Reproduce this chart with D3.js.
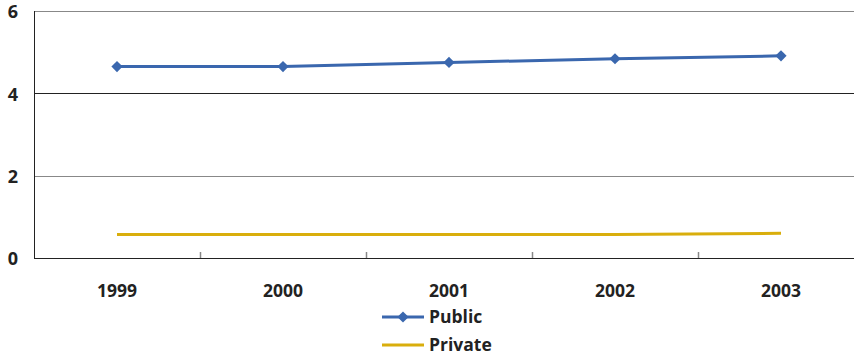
<!DOCTYPE html>
<html>
<head>
<meta charset="utf-8">
<script src="https://cdn.jsdelivr.net/npm/d3@7"></script>
<style>
  body { margin: 0; background: #fff; }
  svg { display: block; font-family: "Open Sans", "Noto Sans", sans-serif; font-weight: bold; }
</style>
</head>
<body>
<svg id="chart" width="854" height="356"></svg>
<script>
const years = ["1999", "2000", "2001", "2002", "2003"];
const publicValues = [4.65, 4.65, 4.75, 4.84, 4.91];
const privateValues = [0.57, 0.57, 0.57, 0.57, 0.6];
const yTicks = [0, 2, 4, 6];

const width = 854, height = 356;
const margin = { top: 11, right: -10, bottom: 98, left: 34 };

const svg = d3.select("#chart");

const x = d3
  .scaleBand()
  .domain(years)
  .range([margin.left, width - margin.right]);

const y = d3
  .scaleLinear()
  .domain([0, 6])
  .range([height - margin.bottom, margin.top]);

// gridlines
svg
  .append("g")
  .selectAll("line")
  .data(yTicks.filter((d) => d > 0))
  .enter()
  .append("line")
  .attr("x1", margin.left)
  .attr("x2", width)
  .attr("y1", (d) => Math.round(y(d)) + 0.5)
  .attr("y2", (d) => Math.round(y(d)) + 0.5)
  .attr("stroke", (d) => (d === 4 ? "#222" : "#888"))
  .attr("stroke-width", 1.2);

// y axis line
svg
  .append("line")
  .attr("x1", margin.left + 0.5)
  .attr("x2", margin.left + 0.5)
  .attr("y1", y(6))
  .attr("y2", y(0))
  .attr("stroke", "#222");

// x axis line
svg
  .append("line")
  .attr("x1", margin.left)
  .attr("x2", width)
  .attr("y1", Math.round(y(0)) + 0.5)
  .attr("y2", Math.round(y(0)) + 0.5)
  .attr("stroke", "#222")
  .attr("stroke-width", 1.2);

// x tick marks at band boundaries (inward)
svg
  .append("g")
  .selectAll("line")
  .data(years.slice(1))
  .enter()
  .append("line")
  .attr("x1", (d) => Math.round(x(d)) + 0.5)
  .attr("x2", (d) => Math.round(x(d)) + 0.5)
  .attr("y1", y(0) - 6)
  .attr("y2", y(0))
  .attr("stroke", "#888")
  .attr("stroke-width", 1.5);

// y tick labels
svg
  .append("g")
  .selectAll("text")
  .data(yTicks)
  .enter()
  .append("text")
  .attr("x", 13)
  .attr("y", (d) => y(d) + 1)
  .attr("dy", "0.35em")
  .attr("text-anchor", "middle")
  .attr("font-size", 18)
  .attr("fill", "#222")
  .text((d) => d);

// x tick labels
svg
  .append("g")
  .selectAll("text")
  .data(years)
  .enter()
  .append("text")
  .attr("x", (d) => x(d) + x.bandwidth() / 2)
  .attr("y", 297)
  .attr("text-anchor", "middle")
  .attr("font-size", 17.5)
  .attr("fill", "#222")
  .text((d) => d);

const cx = (d, i) => x(years[i]) + x.bandwidth() / 2;
const line = d3
  .line()
  .x(cx)
  .y((d) => y(d));

svg
  .append("path")
  .attr("d", line(privateValues))
  .attr("fill", "none")
  .attr("stroke", "#d9ae0c")
  .attr("stroke-width", 3);

svg
  .append("path")
  .attr("d", line(publicValues))
  .attr("fill", "none")
  .attr("stroke", "#3a67ae")
  .attr("stroke-width", 3);

const diamond = d3.symbol().type(d3.symbolDiamond2).size(80);
svg
  .append("g")
  .selectAll("path")
  .data(publicValues)
  .enter()
  .append("path")
  .attr("d", diamond)
  .attr("transform", (d, i) => `translate(${cx(d, i)},${y(d)})`)
  .attr("fill", "#3a67ae");

// legend
const legend = [
  { name: "Public", color: "#3a67ae", marker: true, y: 317 },
  { name: "Private", color: "#d9ae0c", marker: false, y: 345 },
];
const lg = svg
  .append("g")
  .selectAll("g")
  .data(legend)
  .enter()
  .append("g");
lg.append("line")
  .attr("x1", 382)
  .attr("x2", 424)
  .attr("y1", (d) => d.y)
  .attr("y2", (d) => d.y)
  .attr("stroke", (d) => d.color)
  .attr("stroke-width", 3);
lg.filter((d) => d.marker)
  .append("path")
  .attr("d", diamond)
  .attr("transform", (d) => `translate(403,${d.y})`)
  .attr("fill", (d) => d.color);
lg.append("text")
  .attr("x", 429)
  .attr("y", (d) => d.y)
  .attr("dy", "0.35em")
  .attr("font-size", 17.5)
  .attr("fill", "#222")
  .text((d) => d.name);
</script>
</body>
</html>
